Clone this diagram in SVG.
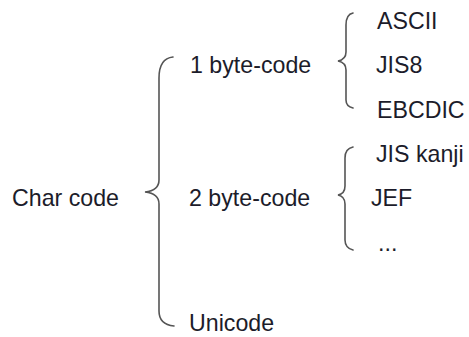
<svg xmlns="http://www.w3.org/2000/svg" width="469" height="337" viewBox="0 0 469 337">
<style>
text{font-family:"Liberation Sans",Arial,sans-serif;font-size:23.2px;fill:#1c1c2a}
.brace{fill:none;stroke:#555;stroke-width:1.6;stroke-linecap:round}
</style>
<rect width="469" height="337" fill="#fff"/>
<g id="connectors">
<path class="brace" d="M173,57 C163,58 159,66 159,78 L159,180 C159,187 155,191 145,192 C155,193 159,197 159,204 L159,311 C159,320 164,325 174,326"/>
<path class="brace" d="M353,13 C348,14 346,18 346,25 L346,52 C346,57 343,60 338,61 C343,62 346,65 346,70 L346,100 C346,104 349,107 353,108"/>
<path class="brace" d="M353,147 C348,148 345,152 345,158 L345,186 C345,191 343,194 338,195 C343,196 345,199 345,204 L345,240 C345,245 348,249 353,250"/>
</g>
<g id="charcode"><text x="12" y="206">Char code</text></g>
<g id="byte1"><text x="190" y="73">1 byte-code</text></g>
<g id="byte2"><text x="189" y="206">2 byte-code</text></g>
<g id="unicode"><text x="189" y="331">Unicode</text></g>
<g id="ascii"><text x="377" y="29">ASCII</text></g>
<g id="jis8"><text x="376" y="73">JIS8</text></g>
<g id="ebcdic"><text x="377" y="118">EBCDIC</text></g>
<g id="jiskanji"><text x="376" y="162">JIS kanji</text></g>
<g id="jef"><text x="371" y="206">JEF</text></g>
<g id="more"><text x="378" y="251">...</text></g>
</svg>
